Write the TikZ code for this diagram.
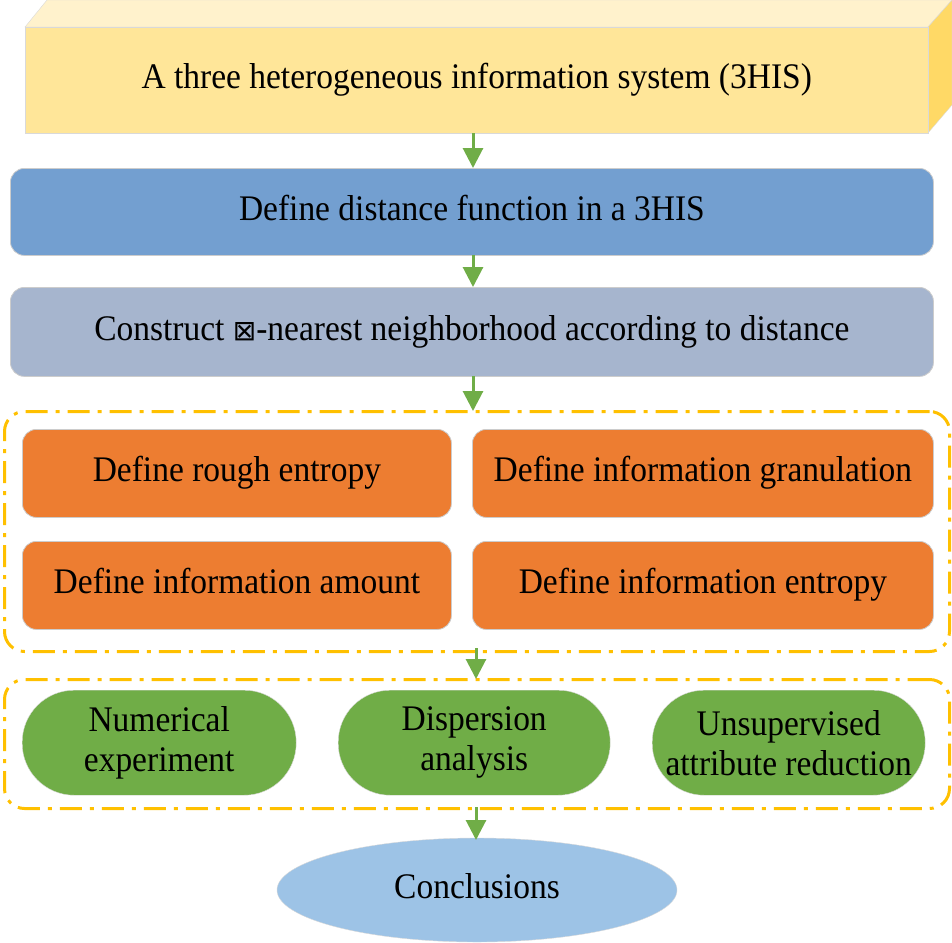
\documentclass[tikz,border=0pt]{standalone}
\usepackage{fontspec}
\setmainfont{Liberation Serif}[FakeStretch=0.93]
\newfontfamily\symf{DejaVu Sans}
\usetikzlibrary{arrows.meta,shapes.geometric}
\begin{document}
\begin{tikzpicture}[x=1pt,y=-1pt,
  txt/.style={font=\fontsize{36}{40}\selectfont, text=black},
  one/.style={text height=25pt, text depth=8pt},
  rbox/.style={rounded corners=14pt, draw=black!20, line width=0.8pt, one},
  grp/.style={draw={rgb,255:red,255;green,192;blue,0}, line width=3pt, rounded corners=20pt, dash pattern=on 22pt off 8pt on 4pt off 8pt},
  arr/.style={draw={rgb,255:red,112;green,173;blue,71}, line width=3pt, -{Triangle[length=20pt,width=20pt]}}]
\definecolor{yel}{RGB}{255,230,153}
\definecolor{yeltop}{RGB}{255,242,204}
\definecolor{yelside}{RGB}{255,217,102}
\definecolor{blu}{RGB}{115,159,208}
\definecolor{gry}{RGB}{166,181,206}
\definecolor{org}{RGB}{237,125,49}
\definecolor{grn}{RGB}{112,173,71}
\definecolor{lbl}{RGB}{157,195,230}
\useasboundingbox (0,0) rectangle (952,942);
% cuboid
\fill[yeltop, draw=black!15] (25,27) -- (47,0) -- (952,0) -- (928,27) -- cycle;
\fill[yelside, draw=black!15] (928,27) -- (952,0) -- (952,105) -- (928,133) -- cycle;
\node[fill=yel, draw=black!15, minimum width=903pt, minimum height=106pt, anchor=north west, inner sep=0] (a) at (25,27) {};
\node[txt, one] at (a.center) {A three heterogeneous information system (3HIS)};
% boxes
\node[rbox, fill=blu, minimum width=923pt, minimum height=87pt, anchor=north west, txt] (b) at (10,168) {Define distance function in a 3HIS};
\node[rbox, fill=gry, minimum width=923pt, minimum height=89pt, anchor=north west, txt, inner xsep=0] (c) at (10,287) {Construct {\symf\fontsize{28}{30}\selectfont ⊠}-nearest neighborhood according to distance};
\node[grp, minimum width=945pt, minimum height=240pt, anchor=north west] (g1) at (3,410) {};
\node[rbox, fill=org, minimum width=429pt, minimum height=88pt, anchor=north west, txt] (d1) at (22,429) {Define rough entropy};
\node[rbox, fill=org, minimum width=461pt, minimum height=88pt, anchor=north west, txt, inner xsep=0] (d2) at (472,429) {Define information granulation};
\node[rbox, fill=org, minimum width=429pt, minimum height=88pt, anchor=north west, txt, inner xsep=0] (d3) at (22,541) {Define information amount};
\node[rbox, fill=org, minimum width=461pt, minimum height=88pt, anchor=north west, txt] (d4) at (472,541) {Define information entropy};
\node[grp, minimum width=945pt, minimum height=129pt, anchor=north west] (g2) at (3,678) {};
\tikzset{pill/.style={draw=black!15, fill=grn, rounded corners=52pt, minimum height=105pt, anchor=north west, txt, align=center, inner sep=0}}
\node[pill, minimum width=274pt] (e1) at (22,690) {Numerical\\experiment};
\node[pill, minimum width=272pt] (e2) at (338,690) {Dispersion\\analysis};
\node[pill, minimum width=273pt] (e3) at (652,690) {Unsupervised\\attribute reduction};
\node[ellipse, draw=black!15, fill=lbl, minimum width=400pt, minimum height=104pt, txt, one, inner sep=0] (f) at (477,890) {Conclusions};
% arrows
\draw[arr] (473,133) -- (473,168);
\draw[arr] (473,255) -- (473,287);
\draw[arr] (473,376) -- (473,411);
\draw[arr] (476,648) -- (476,679);
\draw[arr] (476,807) -- (476,840);
\end{tikzpicture}
\end{document}
